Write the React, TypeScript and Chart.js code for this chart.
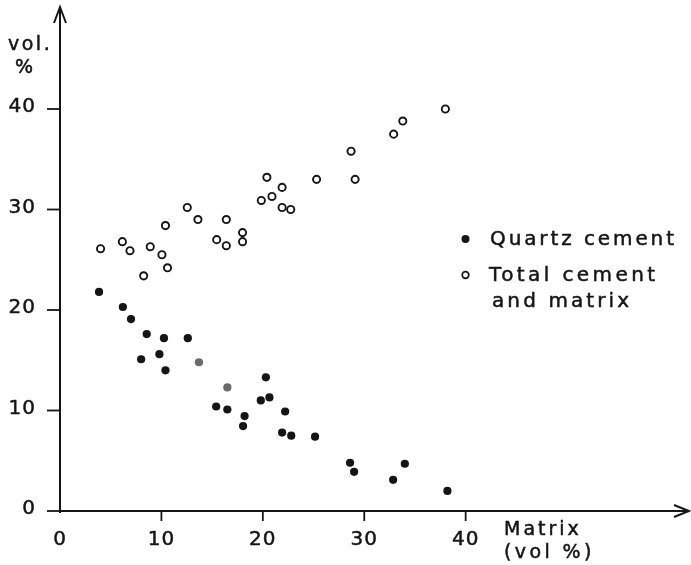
import React, { useEffect, useRef } from "react";
import { Chart, registerables } from "chart.js";

Chart.register(...registerables);

// Matrix (vol %) for each sample
const QUARTZ_X = [3.85, 6.2, 7.0, 8.55, 8.0, 9.8, 10.25, 10.4, 12.6, 13.7, 16.5, 15.4, 16.5, 18.2, 18.05, 19.8, 20.3, 20.65, 22.2, 21.9, 22.8, 25.15, 28.6, 29.0, 32.85, 34.0, 38.2];
// Quartz cement (vol %)
const QUARTZ_Y = [21.8, 20.3, 19.1, 17.6, 15.1, 15.6, 17.2, 14.0, 17.2, 14.8, 12.3, 10.4, 10.1, 9.45, 8.45, 11.0, 13.3, 11.3, 9.9, 7.8, 7.5, 7.4, 4.8, 3.9, 3.1, 4.7, 2.0];
// Matrix (vol %)
const TOTAL_X = [4.0, 6.15, 6.9, 8.25, 8.9, 10.05, 10.6, 10.4, 12.55, 13.6, 15.45, 16.4, 16.4, 18.0, 18.0, 19.85, 20.4, 20.9, 21.9, 21.9, 22.75, 25.3, 28.7, 29.1, 32.9, 33.8, 38.0];
// Total cement and matrix (vol %)
const TOTAL_Y = [26.1, 26.8, 25.9, 23.4, 26.3, 25.5, 24.2, 28.4, 30.2, 29.0, 27.0, 26.4, 29.0, 27.7, 26.8, 30.9, 33.2, 31.3, 32.2, 30.2, 30.0, 33.0, 35.8, 33.0, 37.5, 38.8, 40.0];

const X_TICKS = [0, 10, 20, 30, 40];
const Y_TICKS = [0, 10, 20, 30, 40];
const SERIES_NAMES = ["Quartz cement", "Total cement", "and matrix"];
const FAINT_QUARTZ = [9, 10];

const INK = "#151515";
const FONT = "'DejaVu Sans', sans-serif";

function boldText(ctx: any, s: string, x: number, y: number) {
  ctx.fillText(s, x, y);
  ctx.strokeText(s, x, y);
}

const axesPlugin = {
  id: "customAxes",
  beforeDatasetsDraw(chart: any) {
    const { ctx, scales } = chart;
    const xs = scales.x;
    const ys = scales.y;
    const x0 = xs.getPixelForValue(0);
    const y0 = ys.getPixelForValue(0);
    ctx.save();
    ctx.strokeStyle = INK;
    ctx.lineWidth = 2;
    ctx.lineCap = "butt";
    // y axis
    ctx.beginPath();
    ctx.moveTo(x0, y0 + 2);
    ctx.lineTo(x0, 7);
    ctx.stroke();
    ctx.beginPath();
    ctx.moveTo(x0 - 6, 23);
    ctx.lineTo(x0, 7);
    ctx.lineTo(x0 + 6, 23);
    ctx.stroke();
    // x axis
    ctx.beginPath();
    ctx.moveTo(x0, y0);
    ctx.lineTo(689, y0);
    ctx.stroke();
    ctx.beginPath();
    ctx.moveTo(674, y0 - 6);
    ctx.lineTo(689, y0);
    ctx.lineTo(674, y0 + 6);
    ctx.stroke();
    // y ticks
    ctx.lineWidth = 1.8;
    ctx.fillStyle = INK;
    ctx.font = `20px ${FONT}`;
    (ctx as any).letterSpacing = "1px";
    ctx.textAlign = "right";
    ctx.textBaseline = "middle";
    Y_TICKS.forEach((v) => {
      const p = ys.getPixelForValue(v);
      ctx.lineWidth = 1.8;
      ctx.beginPath();
      ctx.moveTo(x0 - 13, p);
      ctx.lineTo(x0, p);
      ctx.stroke();
      ctx.lineWidth = 0.5;
      boldText(ctx, String(v), 36, p - 2);
    });
    // x ticks
    ctx.textAlign = "center";
    X_TICKS.forEach((v) => {
      const p = xs.getPixelForValue(v);
      if (v !== 0) {
        ctx.lineWidth = 1.8;
        ctx.beginPath();
        ctx.moveTo(p, y0);
        ctx.lineTo(p, y0 + 10);
        ctx.stroke();
      }
      ctx.lineWidth = 0.5;
      boldText(ctx, String(v), p, 540);
    });
    // axis titles
    ctx.font = `19px ${FONT}`;
    (ctx as any).letterSpacing = "2.5px";
    ctx.textAlign = "left";
    ctx.textBaseline = "alphabetic";
    ctx.lineWidth = 0.5;
    boldText(ctx, "vol.", 8, 50);
    boldText(ctx, "%", 15, 73);
    (ctx as any).letterSpacing = "3px";
    boldText(ctx, "Matrix", 504, 535);
    (ctx as any).letterSpacing = "3.4px";
    boldText(ctx, "(vol %)", 504, 558);
    ctx.restore();
  },
  afterDraw(chart: any) {
    const { ctx } = chart;
    ctx.save();
    ctx.fillStyle = INK;
    ctx.strokeStyle = INK;
    ctx.font = `20px ${FONT}`;
    ctx.textAlign = "left";
    ctx.textBaseline = "alphabetic";
    ctx.beginPath();
    ctx.arc(465.5, 239, 4, 0, Math.PI * 2);
    ctx.fill();
    ctx.lineWidth = 1.7;
    ctx.beginPath();
    ctx.arc(465.5, 275, 3.3, 0, Math.PI * 2);
    ctx.stroke();
    ctx.lineWidth = 0.5;
    (ctx as any).letterSpacing = "2.9px";
    boldText(ctx, SERIES_NAMES[0], 490, 245);
    (ctx as any).letterSpacing = "3.4px";
    boldText(ctx, SERIES_NAMES[1], 489, 281);
    (ctx as any).letterSpacing = "3.1px";
    boldText(ctx, SERIES_NAMES[2], 492, 307);
    ctx.restore();
  },
};

export default function App() {
  const ref = useRef<HTMLCanvasElement | null>(null);
  useEffect(() => {
    if (!ref.current) return;
    const chart = new Chart(ref.current, {
      type: "scatter",
      data: {
        datasets: [
          {
            label: SERIES_NAMES[0],
            data: QUARTZ_X.map((x, i) => ({ x, y: QUARTZ_Y[i] })),
            pointRadius: 4.1,
            pointBorderWidth: 0,
            backgroundColor: (c: any) => (FAINT_QUARTZ.includes(c.dataIndex) ? "#6a6a6a" : INK),
            borderColor: (c: any) => (FAINT_QUARTZ.includes(c.dataIndex) ? "#6a6a6a" : INK),
          },
          {
            label: SERIES_NAMES[1] + " " + SERIES_NAMES[2],
            data: TOTAL_X.map((x, i) => ({ x, y: TOTAL_Y[i] })),
            pointRadius: 3.6,
            pointBorderWidth: 1.9,
            backgroundColor: "#ffffff",
            borderColor: INK,
          },
        ],
      },
      options: {
        responsive: false,
        animation: false,
        layout: { padding: { left: 60, right: 22.5, top: 28.6, bottom: 54 } },
        scales: {
          x: { type: "linear", min: 0, max: 60, display: false },
          y: { type: "linear", min: 0, max: 48, display: false },
        },
        plugins: { legend: { display: false }, tooltip: { enabled: false } },
      } as any,
      plugins: [axesPlugin],
    });
    return () => chart.destroy();
  }, []);
  return (
    <div style={{ position: "fixed", left: 0, top: 0, width: 691, height: 565, background: "#fff" }}>
      <canvas ref={ref} width={691} height={565} style={{ display: "block" }} />
    </div>
  );
}
